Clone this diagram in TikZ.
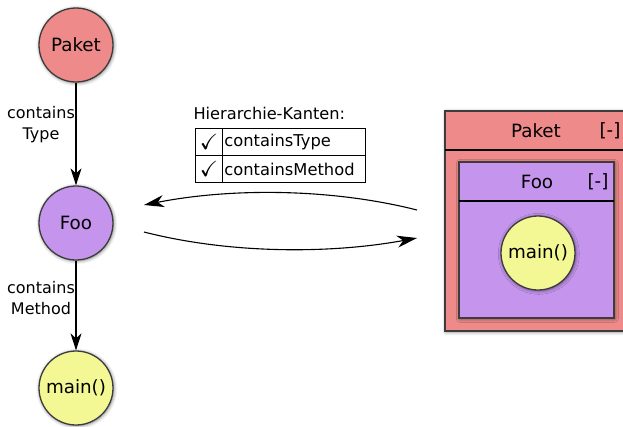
\documentclass[tikz,border=0pt]{standalone}
\usepackage{fontspec}
\setmainfont{DejaVu Sans}
\usepackage{amssymb}
\usetikzlibrary{arrows.meta,shadows.blur}

\definecolor{pkgred}{HTML}{EE8A8A}
\definecolor{typepurple}{HTML}{C595EE}
\definecolor{methyellow}{HTML}{F3F895}
\definecolor{frame}{HTML}{3C3C3C}

\tikzset{
  softshadow/.style={blur shadow={shadow xshift=0.8pt, shadow yshift=-0.8pt,
      shadow blur radius=3.5pt, shadow opacity=55}},
  entity/.style={circle, draw=frame, line width=1.3pt, minimum size=74pt,
      inner sep=0pt, font=\fontsize{18.3}{21}\selectfont, softshadow},
  edgelabel/.style={align=center, font=\fontsize{16}{21}\selectfont},
  hier/.style={-{Stealth[length=17pt,width=11pt,inset=5pt]}, line width=1.1pt},
  swap/.style={-{Stealth[length=20pt,width=12pt,inset=6pt]}, line width=1.1pt},
  cell/.style={draw, line width=0.9pt, minimum height=27pt, inner sep=2pt,
      font=\fontsize{16.3}{19}\selectfont},
  container/.style={draw=frame, line width=1.4pt, softshadow},
  boxtitle/.style={font=\fontsize{18.3}{21}\selectfont},
}

\begin{document}
\begin{tikzpicture}[x=1pt, y=-1pt]
  \useasboundingbox (0,0) rectangle (623,426);
  \clip (0,0) rectangle (623,426);

  % tree view of the hierarchy
  \node[entity, fill=pkgred]      (paket) at (76,45)  {Paket};
  \node[entity, fill=typepurple]  (foo)   at (76,223) {Foo};
  \node[entity, fill=methyellow]  (main)  at (76,388) {main()};

  \draw[hier] (paket) -- (foo);
  \draw[hier] (foo) -- (main);
  \node[edgelabel] (lblType)   at (41,125) {contains\\Type};
  \node[edgelabel] (lblMethod) at (41,298) {contains\\Method};

  % selection of hierarchy edges
  \node[anchor=west, font=\fontsize{16.2}{19}\selectfont] (legend) at (190,113) {Hierarchie-Kanten:};
  \node[cell, anchor=north west, minimum width=27pt, inner sep=0pt] (chk1) at (195,128) {\fontsize{22}{22}\selectfont$\checkmark$};
  \node[cell, anchor=north west, minimum width=143pt, text width=139pt] (opt1) at (222,128) {containsType};
  \node[cell, anchor=north west, minimum width=27pt, inner sep=0pt] (chk2) at (195,155) {\fontsize{22}{22}\selectfont$\checkmark$};
  \node[cell, anchor=north west, minimum width=143pt, text width=139pt] (opt2) at (222,155) {containsMethod};

  % switching between the two views
  \coordinate (leftTop) at (144,205);
  \coordinate (rightTop) at (417,210);
  \coordinate (leftBot) at (144,232);
  \coordinate (rightBot) at (417,238);
  \draw[swap] (rightTop) .. controls (330,188) and (230,188) .. (leftTop);
  \draw[swap] (leftBot) .. controls (230,254) and (330,254) .. (rightBot);

  % nested view
  \draw[container, fill=pkgred] (445,111) rectangle (660,331);
  \draw[line width=1.1pt] (445,150) -- (660,150);
  \node[boxtitle] (pkgTitle) at (536,131) {Paket};
  \node[boxtitle] (pkgToggle) at (610,131) {[-]};

  \draw[container, fill=typepurple] (459,162) rectangle (614,318);
  \draw[line width=1.1pt] (459,201) -- (614,201);
  \node[boxtitle] (fooTitle) at (537,182) {Foo};
  \node[boxtitle] (fooToggle) at (598,182) {[-]};

  \node[entity, fill=methyellow] (innerMain) at (538,253) {main()};
\end{tikzpicture}
\end{document}
